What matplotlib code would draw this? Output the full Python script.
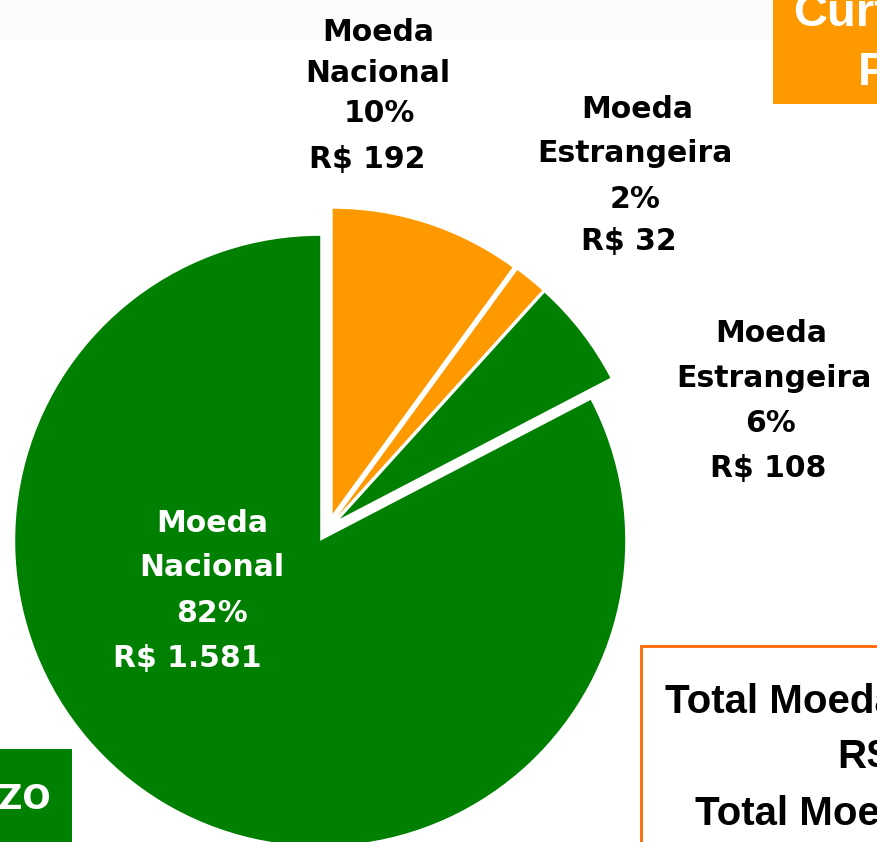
import matplotlib
matplotlib.use("Agg")
import matplotlib.pyplot as plt
from matplotlib.patches import Rectangle

# ---- data ----
categories = ["Moeda Nacional", "Moeda Estrangeira", "Moeda Estrangeira", "Moeda Nacional"]
values = [192, 32, 108, 1581]
percent_labels = ["10%", "2%", "6%", "82%"]
value_labels = ["R$ 192", "R$ 32", "R$ 108", "R$ 1.581"]
slice_colors = ["#FF9900", "#FF9900", "#008000", "#008000"]

W, H = 878, 842
fig = plt.figure(figsize=(W / 100, H / 100), dpi=100)
ax = fig.add_axes([0, 0, 1, 1])

def Y(y_img):
    return H - y_img

# faint top band
ax.add_patch(Rectangle((0, Y(40)), 773, 40, facecolor="#fbfbfb", edgecolor="none", zorder=0))

R = 305
explode = [15, 15, 15, 15]
wedges, _ = ax.pie(values, colors=slice_colors, startangle=90, counterclock=False,
                   explode=explode, radius=R, center=(328, Y(528)),
                   wedgeprops=dict(linewidth=0), frame=False)
for w in wedges:
    w.set_zorder(2)

bold = dict(family="DejaVu Sans", weight="bold", fontsize=21.5, ha="center", va="baseline")

# label placement (x centers, baselines in image px)
label_pos = [
    [(378, 41), (378, 82), (379, 122), (367, 168)],
    [(637, 118), (635, 162), (635, 208), (629, 250)],
    [(771, 342), (774, 387), (771, 432), (768, 477)],
    [(212, 532), (212, 576), (212, 622), (187, 667)],
]
text_colors = ["black", "black", "black", "white"]
for i in range(4):
    first, second = categories[i].split(" ")
    lines = [first, second, percent_labels[i], value_labels[i]]
    for line, (x, y) in zip(lines, label_pos[i]):
        ax.text(x, Y(y), line, color=text_colors[i], zorder=5, **bold)

# top-right orange title box (partially visible)
ax.add_patch(Rectangle((773, Y(104)), 200, 150, facecolor="#FF9900", edgecolor="none", zorder=3))
ax.text(793, Y(26), "Curto", color="white", family="Liberation Sans", weight="bold",
        fontsize=34, ha="left", va="baseline", zorder=4)
ax.text(858, Y(85), "Prazo", color="white", family="Liberation Sans", weight="bold",
        fontsize=34, ha="left", va="baseline", zorder=4)

# bottom-left green box
ax.add_patch(Rectangle((-50, Y(842) - 20), 122, 842 - 749 + 20, facecolor="#008000",
                       edgecolor="none", zorder=3))
ax.text(52, Y(809), "PRAZO", color="white", family="DejaVu Sans", weight="bold",
        fontsize=24, ha="right", va="baseline", zorder=4)

# bottom-right totals box
ax.add_patch(Rectangle((641, -20), 400, Y(646) + 20, facecolor="white",
                       edgecolor="#FF6600", linewidth=2, zorder=3))
tot = dict(color="black", family="Liberation Sans", weight="bold", fontsize=29,
           ha="left", va="baseline", zorder=4)
ax.text(665, Y(713), "Total Moeda Nacional", **tot)
ax.text(838, Y(768), "R$ 1.773", **tot)
ax.text(695, Y(825), "Total Moeda Estrangeira", **tot)

ax.set_xlim(0, W)
ax.set_ylim(0, H)
ax.set_aspect("equal")
ax.axis("off")

fig.savefig("out.png", dpi=100)
